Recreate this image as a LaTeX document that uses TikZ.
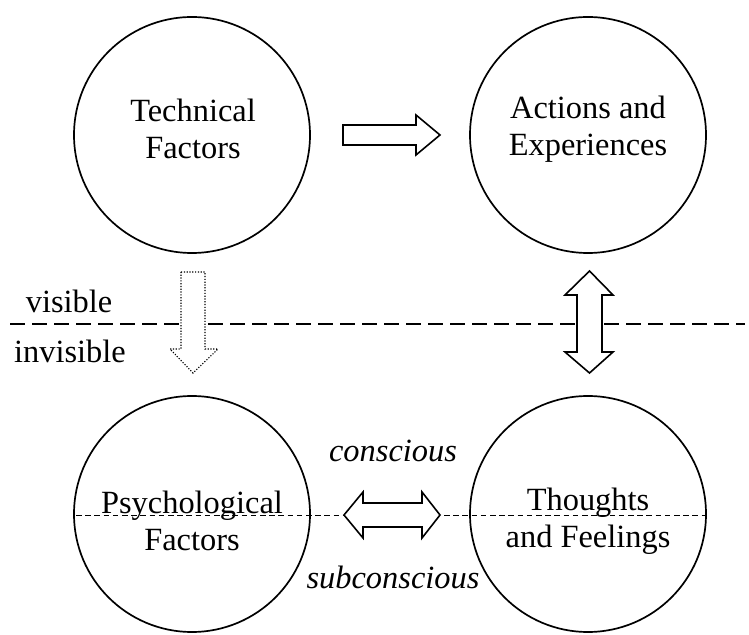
\documentclass[tikz,border=0pt]{standalone}
\usepackage{fontspec}
\setmainfont{Liberation Serif}
\begin{document}
\begin{tikzpicture}[x=0.5pt,y=-0.5pt,
  bubble/.style={circle,draw,line width=0.85pt,minimum size=118pt,inner sep=0pt},
  ctext/.style={align=center,inner sep=0pt,font=\fontsize{16.2}{18.5}\selectfont},
  lbl/.style={font=\fontsize{16.2}{18.5}\selectfont,inner sep=0pt},
  ilbl/.style={font=\fontsize{16.2}{18.5}\selectfont\itshape,inner sep=0pt},
  blockarrow/.style={draw,fill=white,line width=0.8pt,line join=miter},
  dotarrow/.style={draw,fill=white,line width=0.55pt,dash pattern=on 0.6pt off 0.8pt},
  bigdash/.style={line width=1pt,dash pattern=on 7.5pt off 3.5pt},
  smalldash/.style={line width=0.9pt,dash pattern=on 2.8pt off 1.8pt}]
\useasboundingbox (0,0) rectangle (749,635);
\node[bubble] (tech) at (192,135) {};
\node[bubble] (act) at (588,135) {};
\node[bubble] (psy) at (192,514) {};
\node[bubble] (tho) at (588,514) {};
% dashed lines
\coordinate (ml) at (10,324);
\coordinate (mr) at (745,324);
\draw[bigdash] (ml) -- (mr);
\coordinate (bl) at (76,515.5);
\coordinate (br) at (705,515.5);
\draw[smalldash] (bl) -- (br);
% circle texts
\node[ctext] (techt) at (193,129) {Technical\\Factors};
\node[ctext] (actt) at (588,129) {Actions and\\Experiences};
\node[ctext] (psyt) at (192,521) {Psychological\\Factors};
\node[ctext] (thot) at (588,521) {Thoughts\\and Feelings};
% labels
\node[lbl] (vis) at (69,301) {visible};
\node[lbl] (invis) at (70,351) {invisible};
\node[ilbl] (con) at (393,451) {conscious};
\node[ilbl] (sub) at (393,577) {subconscious};
% top arrow
\draw[blockarrow] (343,125) -- (416,125) -- (416,115) -- (440,135) -- (416,155) -- (416,145) -- (343,145) -- cycle;
% dotted arrow
\draw[dotarrow] (181,272) -- (205,272) -- (205,349) -- (218,349) -- (193,373) -- (170,349) -- (181,349) -- cycle;
% vertical double arrow
\draw[blockarrow] (589.5,271) -- (613,295) -- (602,295) -- (602,352) -- (613,352) -- (589.5,373) -- (565,352) -- (577,352) -- (577,295) -- (565,295) -- cycle;
% horizontal double arrow
\draw[blockarrow] (344,515) -- (363,492) -- (363,503) -- (422,503) -- (422,492) -- (440,515) -- (422,538) -- (422,527) -- (363,527) -- (363,538) -- cycle;
\end{tikzpicture}
\end{document}
